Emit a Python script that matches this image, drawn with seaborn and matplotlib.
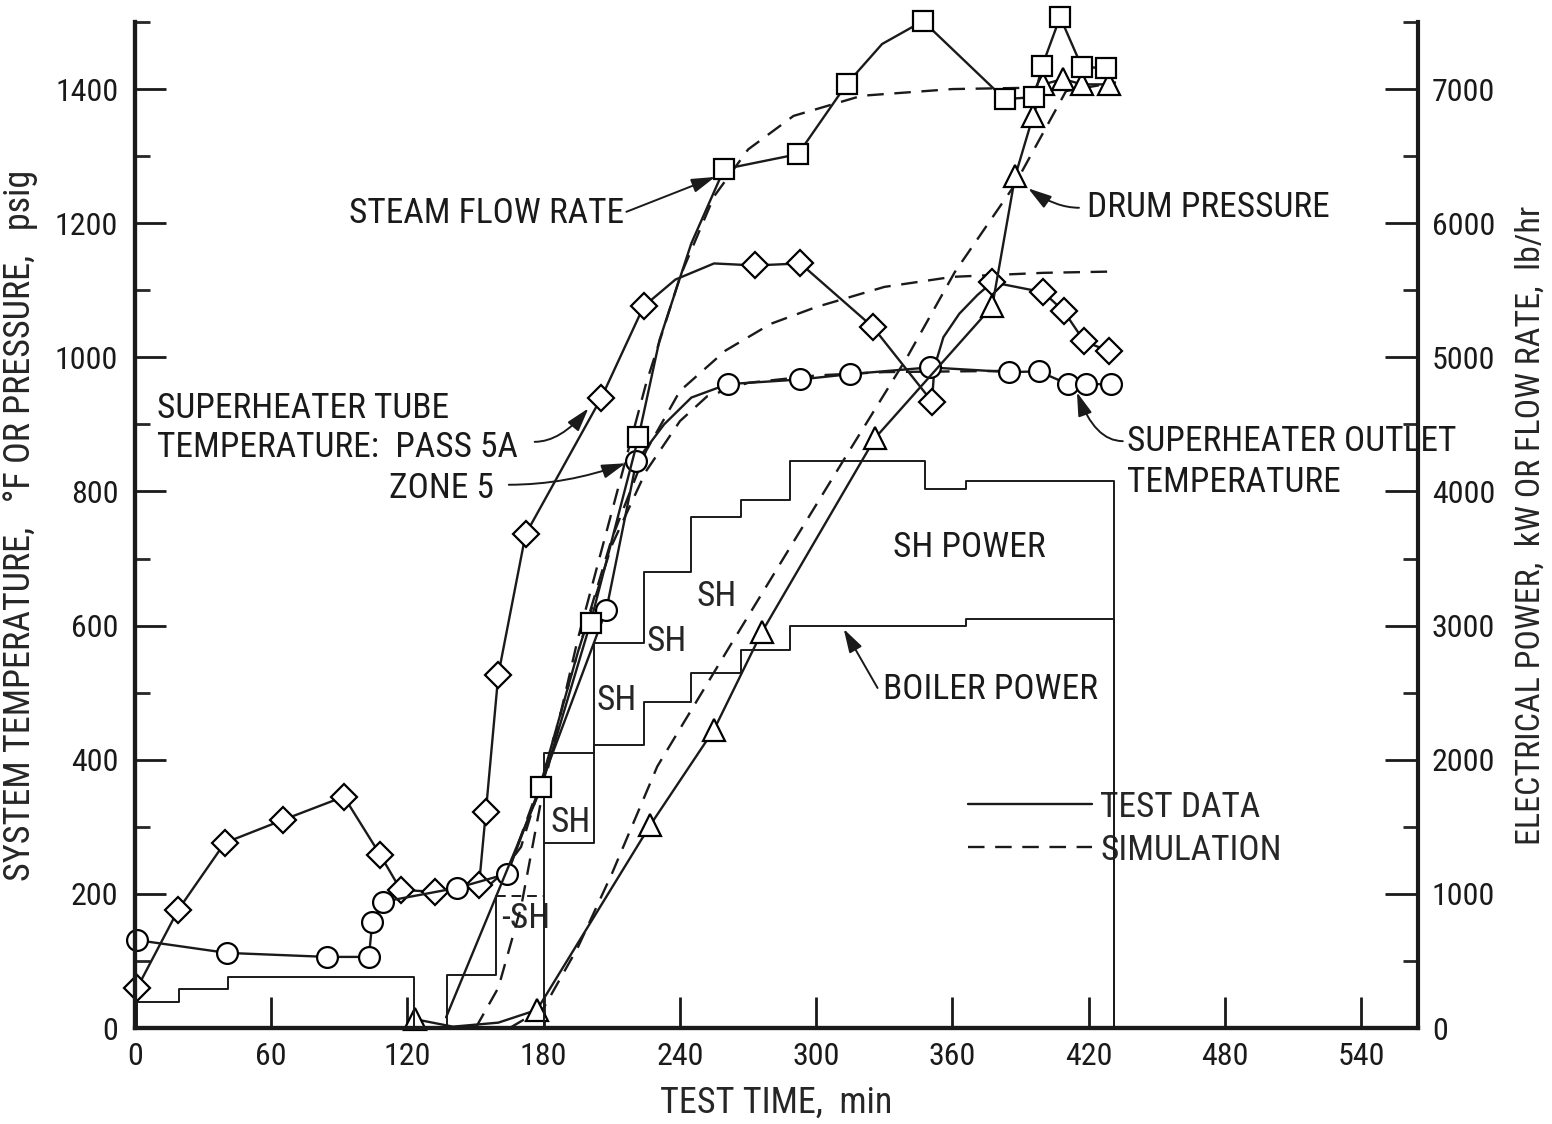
import matplotlib
matplotlib.use("Agg")
import matplotlib.pyplot as plt
import seaborn as sns
from matplotlib import font_manager
from matplotlib.lines import Line2D
from matplotlib.ticker import MultipleLocator

sns.set_theme(style="white")

# pick a narrow sans if one is installed
fonts = font_manager.fontManager.ttflist
names = {f.name for f in fonts}
scale = 1.0
if 'Liberation Sans Narrow' in names:
    plt.rcParams['font.family'] = ['Liberation Sans Narrow', 'DejaVu Sans']
elif 'Roboto Condensed' in names:
    plt.rcParams['font.family'] = ['Roboto Condensed', 'DejaVu Sans']
elif any(f.name == 'DejaVu Sans' and 'condensed' in str(f.stretch) for f in fonts):
    plt.rcParams['font.family'] = ['DejaVu Sans']
    plt.rcParams['font.stretch'] = 'condensed'
else:
    plt.rcParams['font.family'] = ['Liberation Sans', 'DejaVu Sans']
    scale = 0.9

FS = 23 * scale      # tick labels
TFS = 25.5 * scale   # annotations
LFS_L = 26 * scale   # left axis label
LFS_R = 24.5 * scale # right axis label

# ---- test data (markers), time in min ----
# superheater tube temperature, pass 5A, zone 5 (diamonds), deg F
tube_t = [1, 19, 39.5, 65, 92, 108, 117, 132, 151.5, 154.5, 160, 172, 205.4, 224, 238, 255,
          273, 293, 325, 351, 352, 356, 363, 371, 377.5, 400, 409, 418, 429]
tube_v = [60, 176, 276, 310, 345, 258, 206, 203, 213, 322, 527, 736, 940, 1076, 1116, 1140,
          1137, 1140, 1045, 934, 985, 1030, 1065, 1093, 1112, 1097, 1069, 1024, 1009]
tube_mark = [0, 1, 2, 3, 4, 5, 6, 7, 8, 9, 10, 11, 12, 13, 16, 17, 18, 19, 24, 25, 26, 27, 28]

# superheater outlet temperature (circles), deg F
outlet_t = [1, 40.4, 84.7, 103, 104.5, 109, 142, 164, 207.6, 220.8, 233, 245, 261, 293, 315,
            350, 385, 398, 411, 419, 430]
outlet_v = [131, 112, 106, 106, 158, 188, 209, 230, 624, 845, 900, 940, 960, 967, 975,
            985, 978, 979, 960, 960, 960]
outlet_mark = [0, 1, 2, 3, 4, 5, 6, 7, 8, 9, 12, 13, 14, 15, 16, 17, 18, 19, 20]

# steam flow rate (squares), lb/hr
steam_t = [137, 179, 200.6, 221.7, 231, 245, 259.4, 292, 313.4, 329, 347, 383, 396, 399.5,
           407.4, 417, 427.6]
steam_v = [80, 1798, 3022, 4403, 5130, 5850, 6403, 6515, 7037, 7336, 7507, 6925, 6940, 7172,
           7537, 7164, 7157]
steam_mark = [1, 2, 3, 6, 7, 8, 10, 11, 12, 13, 14, 15, 16]

# drum pressure (triangles), psig
drum_t = [123.5, 140, 160, 177, 227, 255, 276, 326, 377.5, 387.6, 395.5, 400, 408.7, 417, 429]
drum_v = [13, 2, 8, 27, 303, 445, 590, 880, 1076, 1270, 1360, 1407, 1415, 1407, 1407]
drum_mark = [0, 3, 4, 5, 6, 7, 8, 9, 10, 11, 12, 13, 14]

# ---- simulation ----
sim_steam_t = [150, 160, 170, 180, 195, 210, 225, 240, 255, 270, 290, 320, 360, 395]
sim_steam_v = [0, 300, 900, 1800, 2900, 3850, 4800, 5600, 6200, 6550, 6800, 6950, 7000, 7010]
sim_tube_t = [155, 165, 180, 195, 210, 225, 240, 260, 280, 300, 330, 360, 400, 432]
sim_tube_v = [210, 240, 380, 560, 730, 860, 950, 1010, 1050, 1075, 1105, 1120, 1126, 1128]
sim_outlet_t = [160, 170, 180, 195, 210, 225, 240, 252, 270, 300, 330, 360, 390]
sim_outlet_v = [225, 270, 380, 560, 720, 830, 905, 942, 962, 973, 978, 979, 980]
sim_drum_t = [165, 180, 195, 210, 230, 261, 290, 313, 340, 361, 387, 410, 432]
sim_drum_v = [0, 30, 120, 230, 390, 564, 725, 852, 1000, 1127, 1255, 1397, 1410]

# ---- electrical power steps, kW ----
early_t = [1, 1, 19.5, 41, 123, 137.4, 159]
early_v = [0, 194, 291, 380, 0, 396, 985]
shdash_t = [159, 180]
shdash_v = [985, 985]
total_t = [180, 180, 202, 224, 245, 267, 288.4, 348, 366, 431]
total_v = [0, 2052, 2873, 3403, 3813, 3933, 4224, 4022, 4075, 0]
boiler_t = [180, 202, 224, 245, 267, 288.4, 366, 431]
boiler_v = [1381, 2112, 2433, 2649, 2821, 3000, 3052, 0]

LW = 1.7
DASH = (0, (7, 4.5))

fig = plt.figure(figsize=(15.52, 11.24), dpi=100)
ax = fig.add_axes([135 / 1552, 1 - 1028 / 1124, 1283 / 1552, 1006 / 1124])
ax2 = ax.twinx()

mk = dict(markerfacecolor='white', markeredgecolor='black', markeredgewidth=1.6, clip_on=False)

# power steps (right axis)
ax2.step(early_t, early_v, where='post', color='k', lw=1.4)
ax2.plot(shdash_t, shdash_v, color='k', lw=1.4, ls=(0, (5, 3)))
ax2.step(total_t, total_v, where='post', color='k', lw=1.4)
ax2.step(boiler_t, boiler_v, where='post', color='k', lw=1.4)

# simulations
sns.lineplot(x=sim_steam_t, y=sim_steam_v, ax=ax2, color='k', lw=LW, ls=DASH)
sns.lineplot(x=sim_tube_t, y=sim_tube_v, ax=ax, color='k', lw=LW, ls=DASH)
sns.lineplot(x=sim_outlet_t, y=sim_outlet_v, ax=ax, color='k', lw=LW, ls=DASH)
sns.lineplot(x=sim_drum_t, y=sim_drum_v, ax=ax, color='k', lw=LW, ls=DASH)

# test data
sns.lineplot(x=tube_t, y=tube_v, ax=ax, color='k', lw=LW, marker='D', markersize=13,
             markevery=tube_mark, **mk)
sns.lineplot(x=outlet_t, y=outlet_v, ax=ax, color='k', lw=LW, marker='o', markersize=15,
             markevery=outlet_mark, **mk)
sns.lineplot(x=drum_t, y=drum_v, ax=ax, color='k', lw=LW, marker='^', markersize=16,
             markevery=drum_mark, **mk)
sns.lineplot(x=steam_t, y=steam_v, ax=ax2, color='k', lw=LW, marker='s', markersize=15,
             markevery=steam_mark, **mk)

ax.set_xlim(0, 565)
ax.set_ylim(0, 1500)
ax2.set_ylim(0, 7500)

ax.xaxis.set_major_locator(MultipleLocator(60))
ax.yaxis.set_major_locator(MultipleLocator(200))
ax.yaxis.set_minor_locator(MultipleLocator(100))
ax2.yaxis.set_major_locator(MultipleLocator(1000))
ax2.yaxis.set_minor_locator(MultipleLocator(500))

ax.tick_params(axis='both', which='major', direction='in', length=22, width=2,
               labelsize=FS, left=True, bottom=True, colors='k')
ax.tick_params(axis='y', which='minor', direction='in', length=11, width=2, left=True)
ax.tick_params(axis='x', which='minor', bottom=False)
ax.tick_params(axis='y', pad=12)
ax.tick_params(axis='x', pad=10)
ax2.tick_params(axis='y', which='major', direction='in', length=24, width=2,
                labelsize=FS, right=True, pad=10, colors='k')
ax2.tick_params(axis='y', which='minor', direction='in', length=11, width=2, right=True)

for a in (ax, ax2):
    a.spines['top'].set_visible(False)
    for s in ('left', 'bottom', 'right'):
        a.spines[s].set_linewidth(3)
        a.spines[s].set_color('k')
ax.spines['right'].set_visible(False)

ax.set_xlabel('TEST TIME,  min', fontsize=LFS_L, labelpad=10)
ax.set_ylabel('SYSTEM TEMPERATURE,   \u00b0F OR PRESSURE,   psig', fontsize=LFS_L, labelpad=12)
ax2.set_ylabel('ELECTRICAL POWER,  kW OR FLOW RATE,  lb/hr', fontsize=LFS_R, labelpad=14)

# labels
txt = dict(fontsize=TFS, ha='left', va='center', color='k')
ax.text(94.4, 1215, 'STEAM FLOW RATE', **txt)
ax.text(419.2, 1223, 'DRUM PRESSURE', **txt)
ax.text(9.7, 924, 'SUPERHEATER TUBE', **txt)
ax.text(9.7, 865, 'TEMPERATURE:  PASS 5A', **txt)
ax.text(111.9, 804, 'ZONE 5', **txt)
ax.text(436.8, 875, 'SUPERHEATER OUTLET', **txt)
ax.text(436.8, 813, 'TEMPERATURE', **txt)
ax.text(333.6, 716, 'SH POWER', **txt)
ax.text(329.2, 504, 'BOILER POWER', **txt)
for t, v in [(191.8, 307), (212, 489), (234, 576), (256, 643)]:
    ax.text(t, v, 'SH', fontsize=TFS, ha='center', va='center')
ax.text(172, 164, '-SH', fontsize=TFS, ha='center', va='center')

arrow = dict(arrowstyle='-|>,head_length=0.6,head_width=0.18', color='k', lw=1.4,
             mutation_scale=24, shrinkA=0, shrinkB=0)
ax.annotate('', xy=(255.5, 1269), xytext=(216.4, 1217),
            arrowprops=dict(arrow, connectionstyle='arc3,rad=0'))
ax.annotate('', xy=(393.3, 1252), xytext=(415.7, 1223),
            arrowprops=dict(arrow, connectionstyle='angle3,angleA=0,angleB=-35'))
ax.annotate('', xy=(199.7, 924), xytext=(176, 874),
            arrowprops=dict(arrow, connectionstyle='angle3,angleA=0,angleB=50'))
ax.annotate('', xy=(216, 842), xytext=(164.6, 810),
            arrowprops=dict(arrow, connectionstyle='angle3,angleA=0,angleB=20'))
ax.annotate('', xy=(414.8, 948), xytext=(435, 875),
            arrowprops=dict(arrow, connectionstyle='angle3,angleA=0,angleB=-70'))
ax.annotate('', xy=(312.1, 595), xytext=(327, 507),
            arrowprops=dict(arrow, connectionstyle='arc3,rad=0'))

handles = [Line2D([], [], color='k', lw=LW), Line2D([], [], color='k', lw=LW, ls=DASH)]
leg = ax.legend(handles, ['TEST DATA', 'SIMULATION'], loc='upper left',
                bbox_to_anchor=(0.649, 0.236), frameon=False, fontsize=TFS,
                handlelength=3.5, handletextpad=0.25, labelspacing=0.28, borderpad=0,
                borderaxespad=0)

fig.savefig('out.png', dpi=100, facecolor='white')
